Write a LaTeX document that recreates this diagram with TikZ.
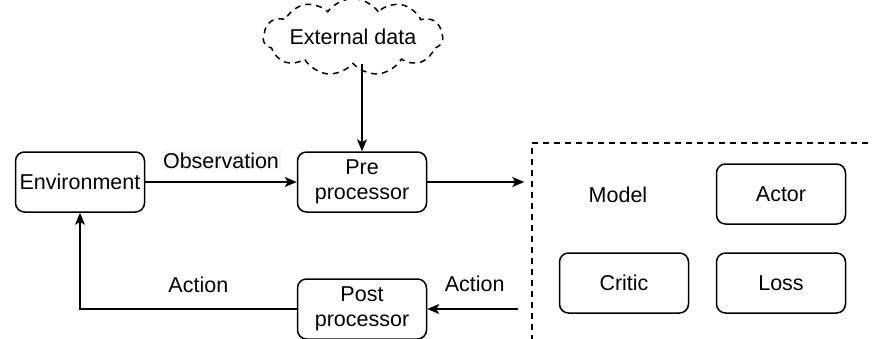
\documentclass[tikz,border=0pt]{standalone}
\usepackage{fontspec}
\setmainfont{Liberation Sans}
\usetikzlibrary{arrows.meta,shapes.symbols}
\begin{document}
\begin{tikzpicture}[x=1pt,y=-1pt,
  box/.style={draw,line width=1.5pt,rounded corners=9pt,minimum width=129pt,minimum height=60pt,align=center,inner sep=2pt,font=\fontsize{21.5}{25}\selectfont},
  lbl/.style={font=\fontsize{21.5}{25}\selectfont,inner sep=2pt},
  conn/.style={line width=1.5pt,-{Stealth[length=12pt,width=10pt,inset=3pt]}},
  dsh/.style={dash pattern=on 6pt off 5pt,line width=1.5pt}
  ]
\useasboundingbox (0,0) rectangle (873,338);
\begin{scope}
\clip (0,0) rectangle (873,338);
\node[draw,dsh,minimum width=360pt,minimum height=210pt,inner sep=0pt] (model) at (712,248) {};
\node[box] (post) at (362,309) {Post\\processor};
\end{scope}
\node[box] (env) at (80,182) {Environment};
\node[box] (pre) at (362,182) {Pre\\processor};
\node[cloud,draw,dsh,cloud puffs=11,cloud puff arc=110,aspect=3.4,minimum width=166pt,minimum height=50pt,inner sep=0pt,font=\fontsize{21.5}{25}\selectfont] (ext) at (353,37) {External data};
\node[lbl] at (618,195) {Model};
\node[box] (actor) at (781,194) {Actor};
\node[box] (critic) at (624,283) {Critic};
\node[box] (loss) at (781,283) {Loss};
\draw[conn] (env) -- node[lbl,above=11pt,fill=black!3] {Observation} (pre);
\draw[conn] (ext.south -| pre.north) -- (pre);
\draw[conn,shorten >=7pt] (pre) -- (model.west |- pre.east);
\coordinate (mout) at ([xshift=-13pt]model.west |- post.east);
\draw[conn] (mout) -- node[lbl,above=15pt,xshift=2pt] {Action} (post);
\draw[conn] (post.west) -- node[lbl,above=14pt,xshift=10pt] {Action} (post.west -| env.south) -- (env.south);
\end{tikzpicture}
\end{document}
